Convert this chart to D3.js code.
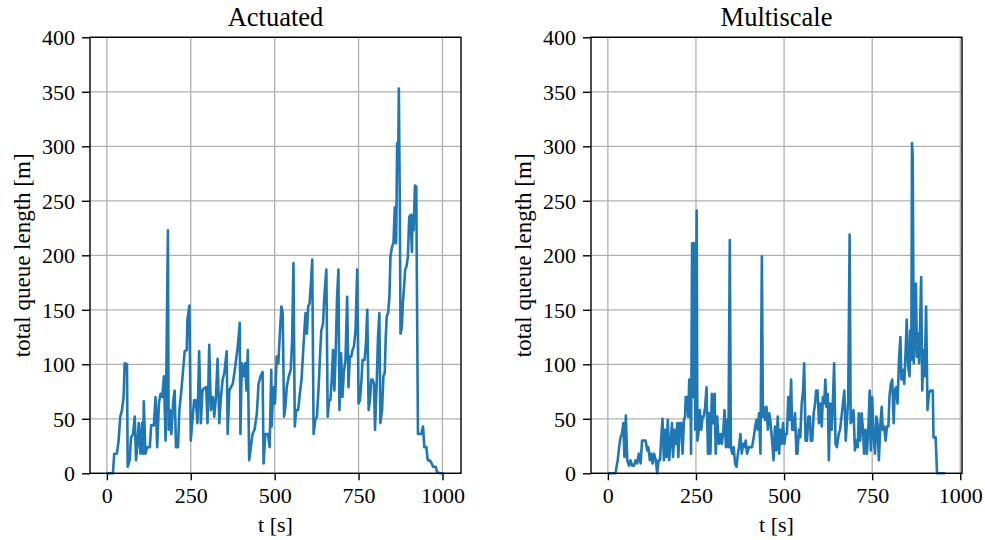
<!DOCTYPE html>
<html>
<head>
<meta charset="utf-8">
<script src="https://cdn.jsdelivr.net/npm/d3@7"></script>
<style>
  body { margin: 0; background: #fff; }
  svg { font-family: "Liberation Serif", "DejaVu Serif", serif; }
</style>
</head>
<body>
<svg id="chart" width="985" height="540"></svg>
<script>
// panel titles and tick labels
const titles = ['Actuated', 'Multiscale'];
const xTicks = [0, 250, 500, 750, 1000];
const yTicks = [0, 50, 100, 150, 200, 250, 300, 350, 400];

// Actuated: time [s] and queue length [m]
const actT = [0,18,22,30,35,40,45,50,53,60,62,68,72,78,83,87,91,95,100,105,108,110,115,120,128,132,140,145,150,155,160,165,170,175,182,184,188,192,198,202,206,212,216,222,228,232,238,240,246,250,255,260,265,270,275,280,285,290,296,300,305,310,316,320,325,330,335,340,345,350,357,360,365,370,375,380,385,390,396,398,402,408,412,416,420,424,428,434,440,447,452,458,464,467,472,480,485,490,491,496,501,506,511,516,520,524,528,532,536,542,548,552,556,560,564,570,574,580,584,588,592,596,600,604,608,612,616,621,626,631,636,639,644,648,654,658,662,666,670,674,678,682,686,690,693,698,702,706,711,716,720,724,728,732,736,741,746,750,754,758,762,768,772,776,780,784,788,792,796,799,804,808,812,815,820,824,828,831,834,838,842,845,850,854,858,862,865,868,870,873,875,879,882,885,889,893,897,901,905,909,911,914,918,922,924,927,937,942,946,952,956,962,968,972,980,984,992,1005];
const actQ = [0,0,18,18,30,52,58,70,101,100,6,12,33,36,52,12,27,46,18,46,18,66,18,24,24,44,44,70,24,64,73,70,89,30,223,40,58,36,67,76,24,24,58,76,98,112,113,141,154,30,49,67,67,46,112,46,76,78,79,46,118,58,70,52,70,105,46,70,86,92,112,36,76,79,82,92,104,116,138,36,101,89,101,76,113,12,21,36,40,55,82,89,93,9,36,36,24,95,43,79,64,107,101,131,153,147,52,61,79,89,95,122,193,43,58,58,70,86,107,128,147,128,153,156,174,196,36,49,52,79,113,131,137,162,187,52,67,67,86,113,76,113,162,187,58,110,70,92,104,162,79,107,107,113,116,131,187,64,67,82,104,104,119,150,58,67,86,86,82,40,82,125,147,46,58,89,92,125,144,147,162,199,208,211,244,211,303,284,353,244,128,134,156,168,187,190,199,235,237,203,237,223,264,263,168,36,36,43,24,24,12,12,9,6,6,1,0,0];

// Multiscale: time [s] and queue length [m]
const mulT = [0,22,25,28,32,36,40,44,47,51,55,60,64,69,74,79,83,88,93,97,107,112,115,119,123,127,131,136,140,144,148,151,155,159,163,166,170,174,178,182,185,189,193,197,200,204,208,212,216,219,221,225,228,231,235,236,239,242,245,248,252,254,258,261,265,269,272,276,280,284,287,291,295,299,303,306,310,315,320,323,327,331,335,338,342,346,349,353,357,361,365,369,372,376,380,384,388,391,395,400,409,414,418,422,425,429,433,437,440,442,446,450,454,458,461,466,470,474,478,482,486,489,493,497,501,504,508,512,516,520,523,527,531,535,538,542,546,550,554,557,561,565,569,573,576,580,584,588,591,595,599,603,607,610,614,617,620,624,627,631,635,639,642,646,650,655,659,663,667,671,675,678,682,686,689,693,697,701,705,709,712,716,720,724,727,731,735,739,743,746,750,754,758,762,765,769,773,777,780,784,788,792,796,799,803,807,811,814,818,822,826,830,833,837,841,845,848,852,856,858,861,863,865,868,871,874,877,880,883,886,889,892,896,899,903,907,911,915,922,924,930,934,957];
const mulQ = [0,0,7,12,24,33,36,46,15,53,12,7,12,7,7,12,9,18,9,30,30,21,24,12,18,9,18,12,0,12,12,30,50,12,40,15,49,12,30,46,15,40,27,46,15,46,46,18,49,52,70,70,52,86,58,18,211,70,211,40,241,30,40,58,40,52,52,61,79,18,55,18,73,46,73,18,52,27,36,27,36,58,24,49,24,214,24,18,24,9,6,18,24,36,18,27,24,30,18,24,24,33,43,49,40,55,18,199,52,61,49,61,40,55,48,30,12,43,21,52,18,40,27,46,27,36,36,70,49,86,40,40,55,18,18,40,33,64,76,101,30,30,52,52,30,30,55,64,76,76,46,64,43,70,64,86,61,73,12,64,40,70,101,27,24,36,40,52,64,76,30,46,67,219,46,49,58,21,30,24,55,30,55,40,18,40,18,40,76,21,70,33,18,52,46,12,43,61,40,43,30,43,43,70,82,86,46,76,79,64,104,125,86,95,82,113,141,98,89,131,104,303,290,101,134,174,107,128,101,138,180,76,113,89,153,58,73,76,76,33,33,0,0];

const series = [
  { t: actT, q: actQ, left: 90, right: 461 },
  { t: mulT, q: mulQ, left: 591, right: 962 }
];

const svg = d3.select('#chart');
const yTop = 37.3, yBottom = 473.3;
const blue = '#1f77b4';

const y = d3.scaleLinear().domain([0, 400]).range([yBottom, yTop]);

series.forEach((s, i) => {
  // matplotlib style 5% margin on x
  const ext = d3.extent(s.t);
  const pad = (ext[1] - ext[0]) * 0.05;
  const x = d3.scaleLinear().domain([ext[0] - pad, ext[1] + pad]).range([s.left, s.right]);
  const g = svg.append('g');

  // grid
  g.selectAll('.gx').data(xTicks).enter().append('line')
    .attr('x1', d => x(d)).attr('x2', d => x(d))
    .attr('y1', yTop).attr('y2', yBottom)
    .attr('stroke', '#b0b0b0').attr('stroke-width', 1.3);
  g.selectAll('.gy').data(yTicks).enter().append('line')
    .attr('x1', s.left).attr('x2', s.right)
    .attr('y1', d => y(d)).attr('y2', d => y(d))
    .attr('stroke', '#b0b0b0').attr('stroke-width', 1.3);

  // data line
  const pts = s.t.map((t, k) => [t, s.q[k]]);
  g.append('path')
    .datum(pts)
    .attr('fill', 'none')
    .attr('stroke', blue)
    .attr('stroke-width', 2.6)
    .attr('stroke-linejoin', 'round')
    .attr('d', d3.line().x(d => x(d[0])).y(d => y(d[1])));

  // axes
  const xAxis = g.append('g')
    .attr('transform', `translate(0,${yBottom})`)
    .call(d3.axisBottom(x).tickValues(xTicks).tickSize(7).tickPadding(7).tickFormat(d3.format('d')));
  const yAxis = g.append('g')
    .attr('transform', `translate(${s.left},0)`)
    .call(d3.axisLeft(y).tickValues(yTicks).tickSize(8).tickPadding(7).tickFormat(d3.format('d')));
  [xAxis, yAxis].forEach(a => {
    a.select('.domain').remove();
    a.selectAll('line').attr('stroke', '#000').attr('stroke-width', 1.4);
    a.selectAll('text').attr('fill', '#000').style('font-size', '22px')
      .style('font-family', '"Liberation Serif", serif');
  });
  xAxis.selectAll('text').attr('dy', '0.72em');
  yAxis.selectAll('text').attr('dy', '0.34em');

  // frame
  g.append('rect')
    .attr('x', s.left).attr('y', yTop)
    .attr('width', s.right - s.left).attr('height', yBottom - yTop)
    .attr('fill', 'none').attr('stroke', '#000').attr('stroke-width', 1.4);

  const cx = (s.left + s.right) / 2;
  g.append('text')
    .attr('x', cx).attr('y', 26)
    .attr('text-anchor', 'middle')
    .style('font-size', '26.5px')
    .text(titles[i]);
  g.append('text')
    .attr('x', cx).attr('y', 532)
    .attr('text-anchor', 'middle')
    .style('font-size', '22px')
    .text('t [s]');
  g.append('text')
    .attr('transform', `translate(${s.left - 60},${(yTop + yBottom) / 2}) rotate(-90)`)
    .attr('text-anchor', 'middle')
    .style('font-size', '23px')
    .text('total queue length [m]');
});
</script>
</body>
</html>
